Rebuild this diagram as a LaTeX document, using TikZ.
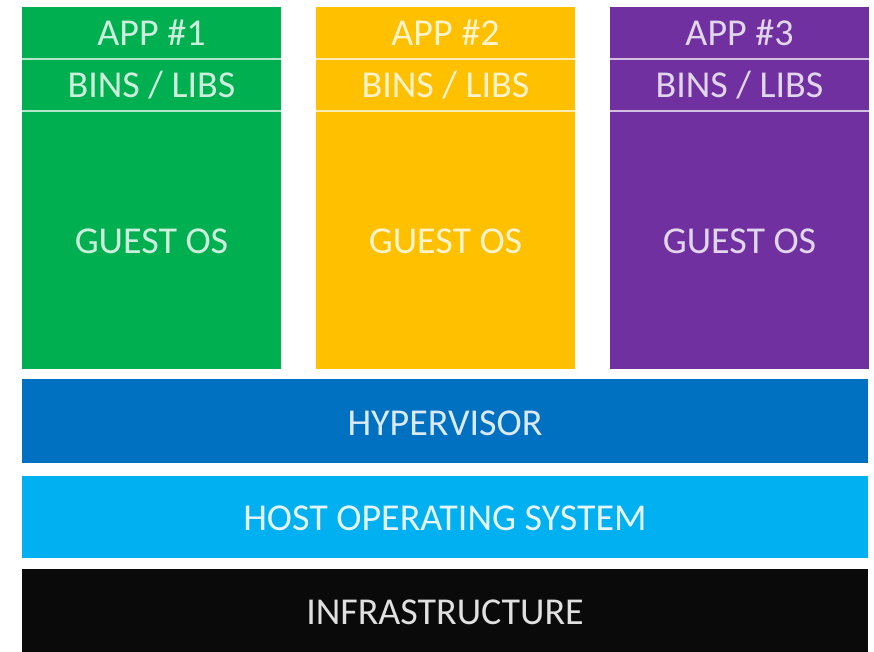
\documentclass[tikz,border=0pt]{standalone}
\usepackage{fontspec}
\setmainfont{Carlito}
\definecolor{cgreen}{HTML}{00B050}
\definecolor{cyellow}{HTML}{FFC000}
\definecolor{cpurple}{HTML}{7030A0}
\definecolor{cblue}{HTML}{0070C0}
\definecolor{clblue}{HTML}{00B0F0}
\definecolor{cblack}{HTML}{0A0A0A}
\begin{document}
\begin{tikzpicture}[x=1pt,y=-1pt,
  lbl/.style={font=\fontsize{38}{42}\selectfont, inner sep=0pt, anchor=center},
  sep/.style={line width=1.6pt}]
\useasboundingbox (0,0) rectangle (874,652);
\fill[white] (0,0) rectangle (874,652);
% columns
\foreach \x/\c/\n in {22/cgreen/1, 316/cyellow/2, 610/cpurple/3}{
  \fill[\c] (\x,7) rectangle ++(259,362);
  \draw[sep, \c!30!white] (\x,59) -- ++(259,0);
  \draw[sep, \c!30!white] (\x,111) -- ++(259,0);
  \node[lbl, text=\c!20!white] (app\n) at (\x+129.5,33) {APP \#\n};
  \node[lbl, text=\c!20!white] (bins\n) at (\x+129.5,85) {BINS / LIBS};
  \node[lbl, text=\c!20!white] (guest\n) at (\x+129.5,241) {GUEST OS};
}
% bands
\fill[cblue] (22,379) rectangle (868,463);
\node[lbl, text=cblue!15!white] (hyp) at (445,423) {HYPERVISOR};
\fill[clblue] (22,476) rectangle (868,558);
\node[lbl, text=clblue!10!white] (host) at (445,518) {HOST OPERATING SYSTEM};
\fill[cblack] (22,569) rectangle (868,652);
\node[lbl, text=white!88!black] (infra) at (445,612) {INFRASTRUCTURE};
\end{tikzpicture}
\end{document}
